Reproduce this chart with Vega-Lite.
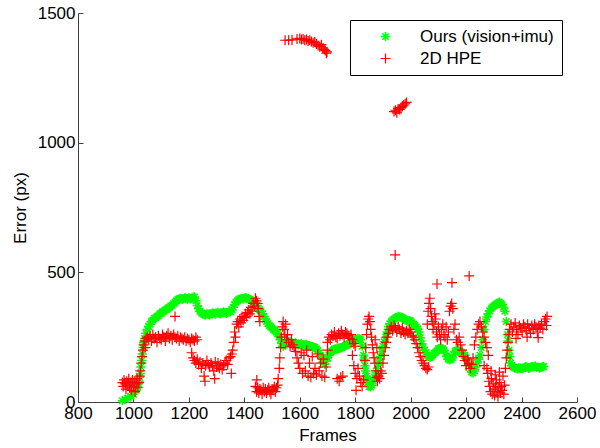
{
"$schema": "https://vega.github.io/schema/vega-lite/v6.json",
"width": 499, "height": 389,
"autosize": {"type": "none"},
"padding": {"left": 78, "top": 13, "right": 23, "bottom": 46},
"background": "white",
"config": {
  "view": {"stroke": null},
  "font": "Liberation Sans",
  "axis": {"domainColor": "#404040", "tickColor": "#404040", "domainWidth": 1, "tickWidth": 1, "labelColor": "#000", "titleColor": "#000", "labelFontSize": 17, "titleFontSize": 17, "titleFontWeight": "normal", "grid": false, "labelFont": "Liberation Sans", "titleFont": "Liberation Sans"}
},
"data": {"values": [
{"f":960,"e":5,"s":"o"},{"f":970,"e":10,"s":"o"},{"f":980,"e":15,"s":"o"},{"f":990,"e":22,"s":"o"},{"f":1000,"e":30,"s":"o"},{"f":1010,"e":45,"s":"o"},{"f":1015,"e":60,"s":"o"},{"f":1018,"e":70,"s":"o"},{"f":1020,"e":80,"s":"o"},{"f":1022,"e":95,"s":"o"},{"f":1025,"e":110,"s":"o"},{"f":1027,"e":135,"s":"o"},{"f":1030,"e":160,"s":"o"},{"f":1032,"e":185,"s":"o"},{"f":1035,"e":210,"s":"o"},{"f":1037,"e":228,"s":"o"},{"f":1040,"e":245,"s":"o"},{"f":1045,"e":265,"s":"o"},{"f":1050,"e":280,"s":"o"},{"f":1055,"e":292,"s":"o"},{"f":1060,"e":300,"s":"o"},{"f":1065,"e":310,"s":"o"},{"f":1070,"e":315,"s":"o"},{"f":1075,"e":322,"s":"o"},{"f":1080,"e":325,"s":"o"},{"f":1085,"e":330,"s":"o"},{"f":1090,"e":333,"s":"o"},{"f":1095,"e":340,"s":"o"},{"f":1100,"e":342,"s":"o"},{"f":1105,"e":348,"s":"o"},{"f":1110,"e":350,"s":"o"},{"f":1115,"e":355,"s":"o"},{"f":1120,"e":357,"s":"o"},{"f":1125,"e":362,"s":"o"},{"f":1130,"e":365,"s":"o"},{"f":1135,"e":370,"s":"o"},{"f":1140,"e":373,"s":"o"},{"f":1145,"e":380,"s":"o"},{"f":1150,"e":385,"s":"o"},{"f":1155,"e":390,"s":"o"},{"f":1160,"e":395,"s":"o"},{"f":1165,"e":398,"s":"o"},{"f":1170,"e":400,"s":"o"},{"f":1175,"e":396,"s":"o"},{"f":1180,"e":398,"s":"o"},{"f":1185,"e":402,"s":"o"},{"f":1190,"e":400,"s":"o"},{"f":1195,"e":397,"s":"o"},{"f":1200,"e":402,"s":"o"},{"f":1205,"e":398,"s":"o"},{"f":1210,"e":400,"s":"o"},{"f":1215,"e":404,"s":"o"},{"f":1220,"e":405,"s":"o"},{"f":1225,"e":390,"s":"o"},{"f":1230,"e":372,"s":"o"},{"f":1235,"e":360,"s":"o"},{"f":1240,"e":350,"s":"o"},{"f":1245,"e":344,"s":"o"},{"f":1250,"e":340,"s":"o"},{"f":1255,"e":337,"s":"o"},{"f":1260,"e":336,"s":"o"},{"f":1265,"e":340,"s":"o"},{"f":1270,"e":338,"s":"o"},{"f":1275,"e":336,"s":"o"},{"f":1280,"e":340,"s":"o"},{"f":1285,"e":344,"s":"o"},{"f":1290,"e":342,"s":"o"},{"f":1295,"e":339,"s":"o"},{"f":1300,"e":343,"s":"o"},{"f":1305,"e":346,"s":"o"},{"f":1310,"e":342,"s":"o"},{"f":1315,"e":340,"s":"o"},{"f":1320,"e":344,"s":"o"},{"f":1325,"e":348,"s":"o"},{"f":1330,"e":346,"s":"o"},{"f":1335,"e":342,"s":"o"},{"f":1340,"e":345,"s":"o"},{"f":1345,"e":350,"s":"o"},{"f":1350,"e":348,"s":"o"},{"f":1355,"e":355,"s":"o"},{"f":1360,"e":365,"s":"o"},{"f":1365,"e":376,"s":"o"},{"f":1370,"e":385,"s":"o"},{"f":1375,"e":390,"s":"o"},{"f":1380,"e":395,"s":"o"},{"f":1385,"e":398,"s":"o"},{"f":1390,"e":400,"s":"o"},{"f":1395,"e":397,"s":"o"},{"f":1400,"e":401,"s":"o"},{"f":1405,"e":403,"s":"o"},{"f":1410,"e":400,"s":"o"},{"f":1415,"e":398,"s":"o"},{"f":1420,"e":395,"s":"o"},{"f":1425,"e":393,"s":"o"},{"f":1430,"e":390,"s":"o"},{"f":1435,"e":386,"s":"o"},{"f":1440,"e":380,"s":"o"},{"f":1445,"e":372,"s":"o"},{"f":1450,"e":362,"s":"o"},{"f":1455,"e":356,"s":"o"},{"f":1460,"e":350,"s":"o"},{"f":1465,"e":340,"s":"o"},{"f":1470,"e":330,"s":"o"},{"f":1475,"e":320,"s":"o"},{"f":1480,"e":310,"s":"o"},{"f":1485,"e":302,"s":"o"},{"f":1490,"e":295,"s":"o"},{"f":1495,"e":290,"s":"o"},{"f":1500,"e":285,"s":"o"},{"f":1505,"e":280,"s":"o"},{"f":1510,"e":275,"s":"o"},{"f":1515,"e":270,"s":"o"},{"f":1520,"e":265,"s":"o"},{"f":1525,"e":252,"s":"o"},{"f":1530,"e":240,"s":"o"},{"f":1535,"e":226,"s":"o"},{"f":1540,"e":215,"s":"o"},{"f":1545,"e":220,"s":"o"},{"f":1550,"e":225,"s":"o"},{"f":1555,"e":230,"s":"o"},{"f":1560,"e":228,"s":"o"},{"f":1565,"e":232,"s":"o"},{"f":1570,"e":228,"s":"o"},{"f":1575,"e":224,"s":"o"},{"f":1580,"e":225,"s":"o"},{"f":1585,"e":228,"s":"o"},{"f":1590,"e":224,"s":"o"},{"f":1595,"e":220,"s":"o"},{"f":1600,"e":222,"s":"o"},{"f":1605,"e":225,"s":"o"},{"f":1610,"e":220,"s":"o"},{"f":1615,"e":217,"s":"o"},{"f":1620,"e":220,"s":"o"},{"f":1625,"e":222,"s":"o"},{"f":1630,"e":218,"s":"o"},{"f":1635,"e":214,"s":"o"},{"f":1640,"e":215,"s":"o"},{"f":1645,"e":214,"s":"o"},{"f":1650,"e":212,"s":"o"},{"f":1655,"e":210,"s":"o"},{"f":1660,"e":205,"s":"o"},{"f":1665,"e":198,"s":"o"},{"f":1670,"e":190,"s":"o"},{"f":1675,"e":178,"s":"o"},{"f":1680,"e":165,"s":"o"},{"f":1685,"e":155,"s":"o"},{"f":1690,"e":145,"s":"o"},{"f":1695,"e":157,"s":"o"},{"f":1700,"e":170,"s":"o"},{"f":1705,"e":182,"s":"o"},{"f":1710,"e":190,"s":"o"},{"f":1715,"e":196,"s":"o"},{"f":1720,"e":200,"s":"o"},{"f":1725,"e":204,"s":"o"},{"f":1730,"e":205,"s":"o"},{"f":1735,"e":202,"s":"o"},{"f":1740,"e":207,"s":"o"},{"f":1745,"e":210,"s":"o"},{"f":1750,"e":210,"s":"o"},{"f":1755,"e":212,"s":"o"},{"f":1760,"e":215,"s":"o"},{"f":1765,"e":218,"s":"o"},{"f":1770,"e":220,"s":"o"},{"f":1775,"e":222,"s":"o"},{"f":1780,"e":225,"s":"o"},{"f":1785,"e":229,"s":"o"},{"f":1790,"e":232,"s":"o"},{"f":1795,"e":235,"s":"o"},{"f":1800,"e":238,"s":"o"},{"f":1805,"e":242,"s":"o"},{"f":1810,"e":245,"s":"o"},{"f":1815,"e":243,"s":"o"},{"f":1820,"e":240,"s":"o"},{"f":1825,"e":215,"s":"o"},{"f":1830,"e":180,"s":"o"},{"f":1832,"e":165,"s":"o"},{"f":1835,"e":140,"s":"o"},{"f":1837,"e":120,"s":"o"},{"f":1840,"e":100,"s":"o"},{"f":1842,"e":88,"s":"o"},{"f":1845,"e":75,"s":"o"},{"f":1850,"e":60,"s":"o"},{"f":1855,"e":58,"s":"o"},{"f":1860,"e":65,"s":"o"},{"f":1865,"e":80,"s":"o"},{"f":1870,"e":95,"s":"o"},{"f":1875,"e":112,"s":"o"},{"f":1880,"e":130,"s":"o"},{"f":1885,"e":152,"s":"o"},{"f":1890,"e":175,"s":"o"},{"f":1895,"e":195,"s":"o"},{"f":1900,"e":215,"s":"o"},{"f":1905,"e":232,"s":"o"},{"f":1910,"e":250,"s":"o"},{"f":1915,"e":270,"s":"o"},{"f":1920,"e":290,"s":"o"},{"f":1925,"e":302,"s":"o"},{"f":1930,"e":310,"s":"o"},{"f":1935,"e":316,"s":"o"},{"f":1940,"e":320,"s":"o"},{"f":1945,"e":324,"s":"o"},{"f":1950,"e":326,"s":"o"},{"f":1955,"e":330,"s":"o"},{"f":1960,"e":328,"s":"o"},{"f":1965,"e":327,"s":"o"},{"f":1970,"e":325,"s":"o"},{"f":1975,"e":321,"s":"o"},{"f":1980,"e":318,"s":"o"},{"f":1985,"e":314,"s":"o"},{"f":1990,"e":312,"s":"o"},{"f":1995,"e":314,"s":"o"},{"f":2000,"e":312,"s":"o"},{"f":2005,"e":306,"s":"o"},{"f":2010,"e":300,"s":"o"},{"f":2015,"e":295,"s":"o"},{"f":2020,"e":290,"s":"o"},{"f":2025,"e":282,"s":"o"},{"f":2030,"e":270,"s":"o"},{"f":2035,"e":248,"s":"o"},{"f":2040,"e":225,"s":"o"},{"f":2045,"e":210,"s":"o"},{"f":2050,"e":200,"s":"o"},{"f":2055,"e":190,"s":"o"},{"f":2060,"e":180,"s":"o"},{"f":2065,"e":175,"s":"o"},{"f":2070,"e":172,"s":"o"},{"f":2075,"e":176,"s":"o"},{"f":2080,"e":182,"s":"o"},{"f":2085,"e":188,"s":"o"},{"f":2090,"e":192,"s":"o"},{"f":2095,"e":198,"s":"o"},{"f":2100,"e":205,"s":"o"},{"f":2105,"e":207,"s":"o"},{"f":2110,"e":208,"s":"o"},{"f":2115,"e":205,"s":"o"},{"f":2120,"e":200,"s":"o"},{"f":2125,"e":188,"s":"o"},{"f":2130,"e":175,"s":"o"},{"f":2135,"e":166,"s":"o"},{"f":2140,"e":162,"s":"o"},{"f":2145,"e":165,"s":"o"},{"f":2150,"e":170,"s":"o"},{"f":2155,"e":183,"s":"o"},{"f":2160,"e":195,"s":"o"},{"f":2165,"e":199,"s":"o"},{"f":2170,"e":200,"s":"o"},{"f":2175,"e":196,"s":"o"},{"f":2180,"e":192,"s":"o"},{"f":2185,"e":190,"s":"o"},{"f":2190,"e":188,"s":"o"},{"f":2195,"e":180,"s":"o"},{"f":2200,"e":170,"s":"o"},{"f":2205,"e":158,"s":"o"},{"f":2210,"e":145,"s":"o"},{"f":2215,"e":128,"s":"o"},{"f":2220,"e":115,"s":"o"},{"f":2225,"e":112,"s":"o"},{"f":2230,"e":120,"s":"o"},{"f":2235,"e":135,"s":"o"},{"f":2240,"e":150,"s":"o"},{"f":2245,"e":165,"s":"o"},{"f":2250,"e":180,"s":"o"},{"f":2255,"e":210,"s":"o"},{"f":2260,"e":240,"s":"o"},{"f":2265,"e":280,"s":"o"},{"f":2270,"e":310,"s":"o"},{"f":2275,"e":328,"s":"o"},{"f":2280,"e":340,"s":"o"},{"f":2285,"e":352,"s":"o"},{"f":2290,"e":360,"s":"o"},{"f":2295,"e":366,"s":"o"},{"f":2300,"e":370,"s":"o"},{"f":2305,"e":374,"s":"o"},{"f":2310,"e":378,"s":"o"},{"f":2315,"e":382,"s":"o"},{"f":2320,"e":385,"s":"o"},{"f":2325,"e":380,"s":"o"},{"f":2330,"e":375,"s":"o"},{"f":2335,"e":365,"s":"o"},{"f":2340,"e":350,"s":"o"},{"f":2345,"e":310,"s":"o"},{"f":2350,"e":260,"s":"o"},{"f":2352,"e":235,"s":"o"},{"f":2355,"e":200,"s":"o"},{"f":2357,"e":175,"s":"o"},{"f":2360,"e":150,"s":"o"},{"f":2365,"e":140,"s":"o"},{"f":2370,"e":135,"s":"o"},{"f":2375,"e":132,"s":"o"},{"f":2380,"e":130,"s":"o"},{"f":2385,"e":128,"s":"o"},{"f":2390,"e":132,"s":"o"},{"f":2395,"e":131,"s":"o"},{"f":2400,"e":130,"s":"o"},{"f":2405,"e":128,"s":"o"},{"f":2410,"e":133,"s":"o"},{"f":2415,"e":136,"s":"o"},{"f":2420,"e":135,"s":"o"},{"f":2425,"e":130,"s":"o"},{"f":2430,"e":132,"s":"o"},{"f":2435,"e":136,"s":"o"},{"f":2440,"e":135,"s":"o"},{"f":2445,"e":137,"s":"o"},{"f":2450,"e":138,"s":"o"},{"f":2455,"e":134,"s":"o"},{"f":2460,"e":135,"s":"o"},{"f":2465,"e":131,"s":"o"},{"f":2470,"e":133,"s":"o"},{"f":2475,"e":136,"s":"o"},{"f":2480,"e":137,"s":"o"},

{"f":960,"e":75,"s":"h"},{"f":963,"e":60,"s":"h"},{"f":966,"e":85,"s":"h"},{"f":970,"e":70,"s":"h"},{"f":973,"e":50,"s":"h"},{"f":976,"e":80,"s":"h"},{"f":980,"e":65,"s":"h"},{"f":983,"e":90,"s":"h"},{"f":986,"e":55,"s":"h"},{"f":990,"e":75,"s":"h"},{"f":993,"e":45,"s":"h"},{"f":996,"e":85,"s":"h"},{"f":1000,"e":60,"s":"h"},{"f":1003,"e":80,"s":"h"},{"f":1006,"e":40,"s":"h"},{"f":1010,"e":70,"s":"h"},{"f":1013,"e":90,"s":"h"},{"f":1016,"e":55,"s":"h"},{"f":1020,"e":75,"s":"h"},{"f":1023,"e":100,"s":"h"},{"f":1025,"e":120,"s":"h"},{"f":1028,"e":150,"s":"h"},{"f":1031,"e":175,"s":"h"},{"f":1034,"e":200,"s":"h"},{"f":1037,"e":220,"s":"h"},{"f":1040,"e":235,"s":"h"},{"f":1043,"e":210,"s":"h"},{"f":1046,"e":245,"s":"h"},{"f":1050,"e":250,"s":"h"},{"f":1055,"e":240,"s":"h"},{"f":1060,"e":255,"s":"h"},{"f":1065,"e":235,"s":"h"},{"f":1070,"e":260,"s":"h"},{"f":1075,"e":245,"s":"h"},{"f":1080,"e":250,"s":"h"},{"f":1085,"e":230,"s":"h"},{"f":1090,"e":255,"s":"h"},{"f":1095,"e":245,"s":"h"},{"f":1100,"e":240,"s":"h"},{"f":1105,"e":260,"s":"h"},{"f":1110,"e":250,"s":"h"},{"f":1115,"e":235,"s":"h"},{"f":1120,"e":255,"s":"h"},{"f":1125,"e":265,"s":"h"},{"f":1130,"e":245,"s":"h"},{"f":1135,"e":255,"s":"h"},{"f":1140,"e":240,"s":"h"},{"f":1145,"e":260,"s":"h"},{"f":1150,"e":330,"s":"h"},{"f":1150,"e":250,"s":"h"},{"f":1155,"e":245,"s":"h"},{"f":1160,"e":255,"s":"h"},{"f":1165,"e":235,"s":"h"},{"f":1170,"e":250,"s":"h"},{"f":1175,"e":245,"s":"h"},{"f":1180,"e":240,"s":"h"},{"f":1185,"e":250,"s":"h"},{"f":1190,"e":235,"s":"h"},{"f":1195,"e":245,"s":"h"},{"f":1200,"e":240,"s":"h"},{"f":1205,"e":230,"s":"h"},{"f":1210,"e":245,"s":"h"},{"f":1215,"e":240,"s":"h"},{"f":1220,"e":235,"s":"h"},{"f":1225,"e":250,"s":"h"},{"f":1230,"e":240,"s":"h"},
{"f":1210,"e":190,"s":"h"},{"f":1215,"e":170,"s":"h"},{"f":1220,"e":160,"s":"h"},{"f":1225,"e":150,"s":"h"},{"f":1230,"e":165,"s":"h"},{"f":1235,"e":145,"s":"h"},{"f":1240,"e":155,"s":"h"},{"f":1245,"e":130,"s":"h"},{"f":1250,"e":150,"s":"h"},{"f":1255,"e":100,"s":"h"},{"f":1258,"e":80,"s":"h"},{"f":1260,"e":140,"s":"h"},{"f":1265,"e":160,"s":"h"},{"f":1270,"e":145,"s":"h"},{"f":1275,"e":135,"s":"h"},{"f":1280,"e":150,"s":"h"},{"f":1285,"e":140,"s":"h"},{"f":1290,"e":120,"s":"h"},{"f":1293,"e":90,"s":"h"},{"f":1295,"e":155,"s":"h"},{"f":1300,"e":135,"s":"h"},{"f":1305,"e":150,"s":"h"},{"f":1310,"e":130,"s":"h"},{"f":1315,"e":145,"s":"h"},{"f":1320,"e":125,"s":"h"},{"f":1325,"e":140,"s":"h"},{"f":1330,"e":150,"s":"h"},{"f":1335,"e":160,"s":"h"},{"f":1340,"e":145,"s":"h"},{"f":1345,"e":170,"s":"h"},{"f":1350,"e":175,"s":"h"},{"f":1353,"e":110,"s":"h"},{"f":1355,"e":185,"s":"h"},
{"f":1358,"e":200,"s":"h"},{"f":1362,"e":230,"s":"h"},{"f":1365,"e":270,"s":"h"},{"f":1368,"e":250,"s":"h"},{"f":1372,"e":300,"s":"h"},{"f":1376,"e":310,"s":"h"},{"f":1380,"e":290,"s":"h"},{"f":1384,"e":320,"s":"h"},{"f":1388,"e":305,"s":"h"},{"f":1392,"e":330,"s":"h"},{"f":1396,"e":315,"s":"h"},{"f":1400,"e":325,"s":"h"},{"f":1404,"e":340,"s":"h"},{"f":1408,"e":330,"s":"h"},{"f":1412,"e":345,"s":"h"},{"f":1416,"e":355,"s":"h"},{"f":1420,"e":340,"s":"h"},{"f":1424,"e":365,"s":"h"},{"f":1428,"e":350,"s":"h"},{"f":1432,"e":380,"s":"h"},{"f":1436,"e":370,"s":"h"},{"f":1440,"e":400,"s":"h"},{"f":1444,"e":390,"s":"h"},{"f":1448,"e":380,"s":"h"},{"f":1450,"e":360,"s":"h"},{"f":1453,"e":330,"s":"h"},{"f":1456,"e":310,"s":"h"},
{"f":1440,"e":60,"s":"h"},{"f":1444,"e":40,"s":"h"},{"f":1445,"e":85,"s":"h"},{"f":1448,"e":55,"s":"h"},{"f":1452,"e":35,"s":"h"},{"f":1456,"e":50,"s":"h"},{"f":1460,"e":45,"s":"h"},{"f":1464,"e":30,"s":"h"},{"f":1468,"e":55,"s":"h"},{"f":1472,"e":40,"s":"h"},{"f":1476,"e":50,"s":"h"},{"f":1480,"e":35,"s":"h"},{"f":1484,"e":45,"s":"h"},{"f":1488,"e":55,"s":"h"},{"f":1492,"e":40,"s":"h"},{"f":1496,"e":30,"s":"h"},{"f":1500,"e":50,"s":"h"},{"f":1504,"e":45,"s":"h"},{"f":1508,"e":60,"s":"h"},{"f":1512,"e":40,"s":"h"},{"f":1516,"e":55,"s":"h"},{"f":1520,"e":65,"s":"h"},
{"f":1522,"e":90,"s":"h"},{"f":1526,"e":130,"s":"h"},{"f":1528,"e":170,"s":"h"},{"f":1531,"e":210,"s":"h"},{"f":1534,"e":250,"s":"h"},{"f":1537,"e":290,"s":"h"},{"f":1540,"e":310,"s":"h"},{"f":1543,"e":280,"s":"h"},{"f":1546,"e":260,"s":"h"},{"f":1549,"e":300,"s":"h"},{"f":1552,"e":240,"s":"h"},{"f":1556,"e":260,"s":"h"},{"f":1560,"e":230,"s":"h"},{"f":1565,"e":215,"s":"h"},{"f":1570,"e":240,"s":"h"},{"f":1575,"e":220,"s":"h"},{"f":1580,"e":210,"s":"h"},
{"f":1585,"e":195,"s":"h"},{"f":1590,"e":170,"s":"h"},{"f":1595,"e":150,"s":"h"},{"f":1600,"e":130,"s":"h"},{"f":1605,"e":190,"s":"h"},{"f":1610,"e":110,"s":"h"},{"f":1615,"e":180,"s":"h"},{"f":1620,"e":120,"s":"h"},{"f":1625,"e":200,"s":"h"},{"f":1630,"e":100,"s":"h"},{"f":1635,"e":150,"s":"h"},{"f":1640,"e":95,"s":"h"},{"f":1645,"e":175,"s":"h"},{"f":1650,"e":110,"s":"h"},{"f":1655,"e":130,"s":"h"},{"f":1660,"e":105,"s":"h"},{"f":1665,"e":185,"s":"h"},{"f":1670,"e":120,"s":"h"},{"f":1675,"e":150,"s":"h"},{"f":1680,"e":100,"s":"h"},{"f":1685,"e":165,"s":"h"},{"f":1690,"e":95,"s":"h"},{"f":1695,"e":135,"s":"h"},{"f":1700,"e":200,"s":"h"},
{"f":1700,"e":230,"s":"h"},{"f":1705,"e":250,"s":"h"},{"f":1710,"e":240,"s":"h"},{"f":1715,"e":260,"s":"h"},{"f":1720,"e":255,"s":"h"},{"f":1725,"e":270,"s":"h"},{"f":1730,"e":250,"s":"h"},{"f":1735,"e":245,"s":"h"},{"f":1740,"e":265,"s":"h"},{"f":1745,"e":255,"s":"h"},{"f":1750,"e":275,"s":"h"},{"f":1755,"e":260,"s":"h"},{"f":1760,"e":250,"s":"h"},{"f":1765,"e":270,"s":"h"},{"f":1770,"e":265,"s":"h"},{"f":1775,"e":255,"s":"h"},{"f":1780,"e":245,"s":"h"},{"f":1785,"e":260,"s":"h"},{"f":1790,"e":240,"s":"h"},{"f":1795,"e":225,"s":"h"},{"f":1800,"e":215,"s":"h"},
{"f":1735,"e":90,"s":"h"},{"f":1742,"e":80,"s":"h"},{"f":1748,"e":95,"s":"h"},{"f":1755,"e":100,"s":"h"},
{"f":1790,"e":180,"s":"h"},{"f":1795,"e":140,"s":"h"},{"f":1800,"e":110,"s":"h"},{"f":1803,"e":45,"s":"h"},{"f":1806,"e":90,"s":"h"},{"f":1810,"e":130,"s":"h"},{"f":1815,"e":100,"s":"h"},{"f":1820,"e":75,"s":"h"},{"f":1825,"e":60,"s":"h"},{"f":1830,"e":85,"s":"h"},
{"f":1835,"e":160,"s":"h"},{"f":1838,"e":210,"s":"h"},{"f":1841,"e":260,"s":"h"},{"f":1844,"e":300,"s":"h"},{"f":1847,"e":320,"s":"h"},{"f":1850,"e":330,"s":"h"},{"f":1853,"e":310,"s":"h"},{"f":1856,"e":280,"s":"h"},{"f":1859,"e":250,"s":"h"},{"f":1862,"e":220,"s":"h"},{"f":1865,"e":190,"s":"h"},{"f":1868,"e":170,"s":"h"},{"f":1871,"e":150,"s":"h"},{"f":1872,"e":240,"s":"h"},{"f":1878,"e":210,"s":"h"},
{"f":1874,"e":120,"s":"h"},{"f":1877,"e":95,"s":"h"},{"f":1880,"e":80,"s":"h"},{"f":1884,"e":100,"s":"h"},{"f":1888,"e":90,"s":"h"},{"f":1892,"e":120,"s":"h"},{"f":1896,"e":110,"s":"h"},{"f":1900,"e":150,"s":"h"},{"f":1904,"e":180,"s":"h"},{"f":1908,"e":210,"s":"h"},{"f":1912,"e":230,"s":"h"},{"f":1916,"e":250,"s":"h"},
{"f":1920,"e":265,"s":"h"},{"f":1925,"e":280,"s":"h"},{"f":1930,"e":290,"s":"h"},{"f":1935,"e":275,"s":"h"},{"f":1940,"e":295,"s":"h"},{"f":1945,"e":285,"s":"h"},{"f":1950,"e":270,"s":"h"},{"f":1955,"e":290,"s":"h"},{"f":1960,"e":280,"s":"h"},{"f":1965,"e":265,"s":"h"},{"f":1970,"e":285,"s":"h"},{"f":1975,"e":270,"s":"h"},{"f":1980,"e":260,"s":"h"},{"f":1985,"e":275,"s":"h"},{"f":1990,"e":265,"s":"h"},{"f":1995,"e":280,"s":"h"},{"f":2000,"e":270,"s":"h"},{"f":2005,"e":255,"s":"h"},
{"f":2010,"e":250,"s":"h"},{"f":2015,"e":240,"s":"h"},{"f":2020,"e":225,"s":"h"},{"f":2025,"e":210,"s":"h"},{"f":2030,"e":190,"s":"h"},{"f":2035,"e":175,"s":"h"},{"f":2040,"e":160,"s":"h"},{"f":2045,"e":150,"s":"h"},{"f":2050,"e":140,"s":"h"},{"f":2055,"e":130,"s":"h"},{"f":2060,"e":125,"s":"h"},{"f":2065,"e":135,"s":"h"},
{"f":2060,"e":300,"s":"h"},{"f":2063,"e":350,"s":"h"},{"f":2066,"e":380,"s":"h"},{"f":2069,"e":400,"s":"h"},{"f":2072,"e":360,"s":"h"},{"f":2075,"e":330,"s":"h"},{"f":2078,"e":310,"s":"h"},{"f":2081,"e":280,"s":"h"},{"f":2084,"e":300,"s":"h"},{"f":2087,"e":340,"s":"h"},{"f":2090,"e":320,"s":"h"},{"f":2093,"e":270,"s":"h"},{"f":2096,"e":250,"s":"h"},{"f":2100,"e":290,"s":"h"},{"f":2104,"e":260,"s":"h"},{"f":2108,"e":240,"s":"h"},{"f":2112,"e":280,"s":"h"},{"f":2116,"e":300,"s":"h"},{"f":2120,"e":260,"s":"h"},{"f":2124,"e":250,"s":"h"},{"f":2128,"e":290,"s":"h"},{"f":2132,"e":240,"s":"h"},{"f":2136,"e":270,"s":"h"},{"f":2140,"e":350,"s":"h"},{"f":2144,"e":370,"s":"h"},{"f":2148,"e":380,"s":"h"},{"f":2152,"e":360,"s":"h"},{"f":2156,"e":280,"s":"h"},{"f":2160,"e":300,"s":"h"},{"f":2165,"e":240,"s":"h"},{"f":2170,"e":230,"s":"h"},{"f":2175,"e":250,"s":"h"},{"f":2180,"e":220,"s":"h"},
{"f":2095,"e":455,"s":"h"},{"f":2149,"e":460,"s":"h"},{"f":2211,"e":486,"s":"h"},
{"f":2185,"e":200,"s":"h"},{"f":2190,"e":175,"s":"h"},{"f":2195,"e":160,"s":"h"},{"f":2200,"e":140,"s":"h"},{"f":2205,"e":165,"s":"h"},{"f":2210,"e":150,"s":"h"},{"f":2215,"e":130,"s":"h"},{"f":2220,"e":145,"s":"h"},{"f":2225,"e":170,"s":"h"},
{"f":2230,"e":220,"s":"h"},{"f":2235,"e":250,"s":"h"},{"f":2240,"e":280,"s":"h"},{"f":2245,"e":300,"s":"h"},{"f":2250,"e":310,"s":"h"},{"f":2255,"e":290,"s":"h"},{"f":2260,"e":270,"s":"h"},{"f":2265,"e":250,"s":"h"},{"f":2270,"e":230,"s":"h"},{"f":2275,"e":210,"s":"h"},{"f":2280,"e":180,"s":"h"},{"f":2265,"e":140,"s":"h"},{"f":2275,"e":130,"s":"h"},
{"f":2278,"e":110,"s":"h"},{"f":2282,"e":80,"s":"h"},{"f":2285,"e":60,"s":"h"},{"f":2288,"e":40,"s":"h"},{"f":2290,"e":120,"s":"h"},{"f":2291,"e":90,"s":"h"},{"f":2294,"e":30,"s":"h"},{"f":2297,"e":70,"s":"h"},{"f":2300,"e":50,"s":"h"},{"f":2303,"e":25,"s":"h"},{"f":2305,"e":105,"s":"h"},{"f":2306,"e":60,"s":"h"},{"f":2309,"e":85,"s":"h"},{"f":2312,"e":40,"s":"h"},{"f":2315,"e":20,"s":"h"},{"f":2318,"e":55,"s":"h"},{"f":2320,"e":115,"s":"h"},{"f":2321,"e":75,"s":"h"},{"f":2324,"e":35,"s":"h"},{"f":2327,"e":60,"s":"h"},{"f":2330,"e":45,"s":"h"},{"f":2333,"e":100,"s":"h"},{"f":2336,"e":30,"s":"h"},{"f":2339,"e":65,"s":"h"},
{"f":2342,"e":130,"s":"h"},{"f":2345,"e":170,"s":"h"},{"f":2348,"e":200,"s":"h"},{"f":2351,"e":230,"s":"h"},{"f":2354,"e":260,"s":"h"},
{"f":2357,"e":280,"s":"h"},{"f":2362,"e":300,"s":"h"},{"f":2367,"e":270,"s":"h"},{"f":2372,"e":290,"s":"h"},{"f":2377,"e":305,"s":"h"},{"f":2380,"e":245,"s":"h"},{"f":2382,"e":280,"s":"h"},{"f":2387,"e":260,"s":"h"},{"f":2392,"e":295,"s":"h"},{"f":2397,"e":285,"s":"h"},{"f":2402,"e":270,"s":"h"},{"f":2407,"e":300,"s":"h"},{"f":2412,"e":290,"s":"h"},{"f":2417,"e":275,"s":"h"},{"f":2420,"e":250,"s":"h"},{"f":2422,"e":300,"s":"h"},{"f":2427,"e":285,"s":"h"},{"f":2432,"e":265,"s":"h"},{"f":2437,"e":295,"s":"h"},{"f":2442,"e":280,"s":"h"},{"f":2447,"e":300,"s":"h"},{"f":2452,"e":290,"s":"h"},{"f":2457,"e":270,"s":"h"},{"f":2460,"e":248,"s":"h"},{"f":2462,"e":295,"s":"h"},{"f":2467,"e":285,"s":"h"},{"f":2472,"e":300,"s":"h"},{"f":2477,"e":280,"s":"h"},{"f":2482,"e":310,"s":"h"},{"f":2487,"e":320,"s":"h"},{"f":2490,"e":295,"s":"h"},{"f":2492,"e":330,"s":"h"},
{"f":1547,"e":1395,"s":"h"},{"f":1560,"e":1395,"s":"h"},{"f":1572,"e":1396,"s":"h"},{"f":1590,"e":1400,"s":"h"},{"f":1600,"e":1402,"s":"h"},{"f":1606,"e":1398,"s":"h"},{"f":1612,"e":1400,"s":"h"},{"f":1618,"e":1395,"s":"h"},{"f":1624,"e":1398,"s":"h"},{"f":1630,"e":1392,"s":"h"},{"f":1636,"e":1395,"s":"h"},{"f":1642,"e":1390,"s":"h"},{"f":1648,"e":1385,"s":"h"},{"f":1654,"e":1388,"s":"h"},{"f":1660,"e":1380,"s":"h"},{"f":1666,"e":1375,"s":"h"},{"f":1672,"e":1370,"s":"h"},{"f":1678,"e":1378,"s":"h"},{"f":1684,"e":1365,"s":"h"},{"f":1688,"e":1360,"s":"h"},{"f":1692,"e":1355,"s":"h"},{"f":1696,"e":1345,"s":"h"},{"f":1698,"e":1350,"s":"h"},
{"f":1940,"e":1120,"s":"h"},{"f":1945,"e":1125,"s":"h"},{"f":1950,"e":1115,"s":"h"},{"f":1955,"e":1130,"s":"h"},{"f":1960,"e":1128,"s":"h"},{"f":1965,"e":1135,"s":"h"},{"f":1970,"e":1140,"s":"h"},{"f":1975,"e":1145,"s":"h"},{"f":1980,"e":1150,"s":"h"},{"f":1985,"e":1155,"s":"h"},
{"f":1944,"e":567,"s":"h"}
]},
"mark": {"type": "point", "filled": false, "opacity": 1},
"encoding": {
  "x": {"field": "f", "type": "quantitative", "scale": {"domain": [800, 2600], "nice": false, "zero": false},
        "axis": {"title": "Frames", "format": "d", "values": [800,1000,1200,1400,1600,1800,2000,2200,2400,2600], "tickSize": -5, "labelPadding": 8, "titlePadding": 6, "labelFlush": false, "labelOverlap": false}},
  "y": {"field": "e", "type": "quantitative", "scale": {"domain": [0, 1500], "nice": false},
        "axis": {"title": "Error (px)", "format": "d", "values": [0,500,1000,1500], "tickSize": -5, "labelPadding": 8, "titlePadding": 8, "labelFlush": false, "labelOverlap": false}},
  "size": {"field": "s", "type": "nominal", "scale": {"domain": ["o", "h"], "range": [85, 100]}, "legend": null},
  "strokeWidth": {"field": "s", "type": "nominal", "scale": {"domain": ["o", "h"], "range": [1.5, 1.2]}, "legend": null},
  "color": {"field": "s", "type": "nominal", "scale": {"domain": ["o", "h"], "range": ["#00ff00", "#ff0000"]},
        "legend": {"title": null, "orient": "none", "legendX": 272, "legendY": 7, "strokeColor": "#000", "fillColor": "#fff", "padding": 8, "symbolOffset": 19, "labelFontSize": 17, "labelFont": "Liberation Sans", "labelColor": "#000", "labelOffset": 26, "symbolSize": 90, "symbolStrokeWidth": 1, "rowPadding": 4, "labelExpr": "datum.label == 'o' ? 'Ours (vision+imu)' : '2D HPE'"}},
  "shape": {"field": "s", "type": "nominal", "scale": {"domain": ["o", "h"], "range": ["M-1,0H1M0,-1V1M-0.7,-0.7L0.7,0.7M-0.7,0.7L0.7,-0.7", "M-1,0H1M0,-1V1"]},
        "legend": {"title": null, "orient": "none", "legendX": 272, "legendY": 7, "strokeColor": "#000", "fillColor": "#fff", "padding": 8, "symbolOffset": 19, "labelFontSize": 17, "labelFont": "Liberation Sans", "labelColor": "#000", "labelOffset": 26, "symbolSize": 90, "symbolStrokeWidth": 1, "rowPadding": 4, "labelExpr": "datum.label == 'o' ? 'Ours (vision+imu)' : '2D HPE'"}}
}
}
